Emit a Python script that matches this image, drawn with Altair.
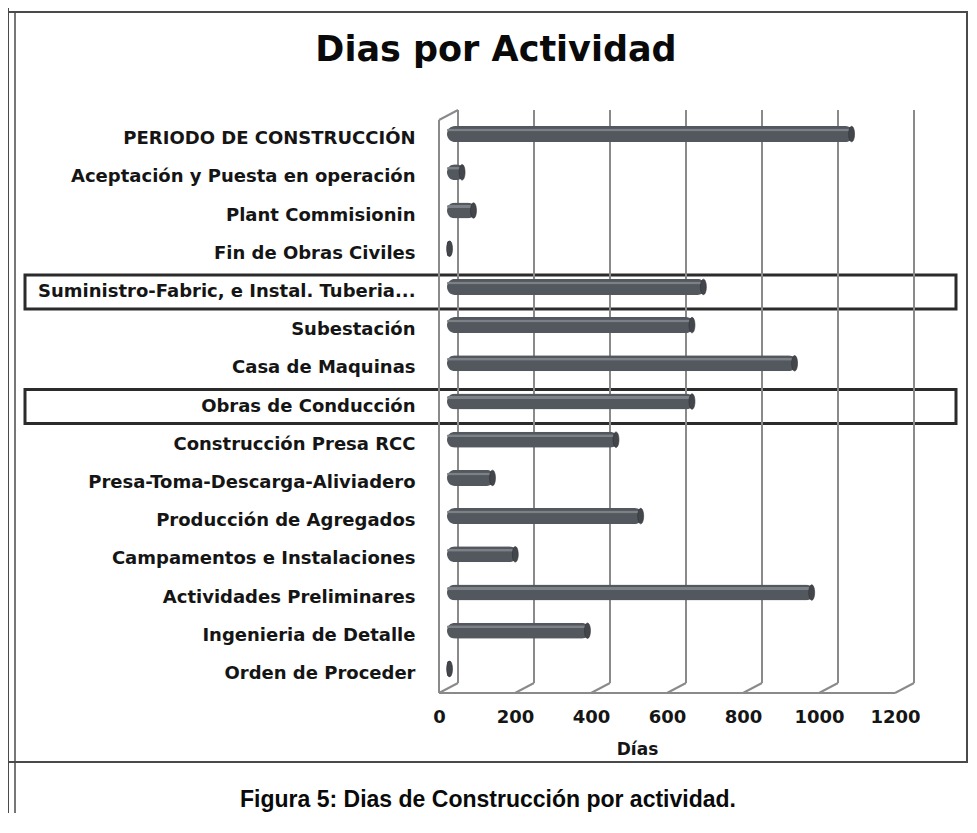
import altair as alt
import pandas as pd

# ---- data ----
categories = [
    "PERIODO DE CONSTRUCCIÓN",
    "Aceptación y Puesta en operación",
    "Plant Commisionin",
    "Fin de Obras Civiles",
    "Suministro-Fabric, e Instal. Tuberia...",
    "Subestación",
    "Casa de Maquinas",
    "Obras de Conducción",
    "Construcción Presa RCC",
    "Presa-Toma-Descarga-Aliviadero",
    "Producción de Agregados",
    "Campamentos e Instalaciones",
    "Actividades Preliminares",
    "Ingenieria de Detalle",
    "Orden de Proceder",
]
dias = [1070, 45, 75, 12, 680, 650, 920, 650, 450, 125, 515, 185, 965, 375, 12]
highlighted = ["Suministro-Fabric, e Instal. Tuberia...", "Obras de Conducción"]
ticks = [0, 200, 400, 600, 800, 1000, 1200]
title_text = "Dias por Actividad"
caption_text = "Figura 5: Dias de Construcción por actividad."
x_title = "Días"

df = pd.DataFrame({"actividad": categories, "dias": dias})
df_hl = pd.DataFrame({"actividad": highlighted})
df_ticks = pd.DataFrame({"tick": ticks})
one = alt.Data(values=[{}])

W, H = 456, 573
DX, DY = 19, -10          # 3-D depth offset of the back wall (px)
MID = 8 / (W / 1200.0)    # bars sit half-way in depth: shift their scale by 8 px
FONT = "DejaVu Sans"
xscale = alt.Scale(domain=[0, 1200], nice=False, zero=True)
xscale_bars = alt.Scale(domain=[-MID, 1200 - MID], nice=False, zero=False)
yscale = alt.Scale(domain=categories, paddingInner=0.1, paddingOuter=0.05)
grid_col = "#8a8a8a"

xaxis = alt.Axis(
    title=x_title, values=ticks, grid=False, domain=False, ticks=False,
    labelFont=FONT, labelFontWeight="bold", labelFontSize=18,
    labelColor="#151515", labelPadding=15, labelFlush=False,
    labelOverlap=False, format="d",
    titleFont=FONT, titleFontWeight="bold", titleFontSize=17,
    titleColor="#151515", titleX=198, titleY=56,
    titleAlign="center", titleBaseline="middle",
)
yaxis = alt.Axis(
    title="", ticks=False, domain=False, grid=False,
    labelFont=FONT, labelFontWeight="bold", labelFontSize=18,
    labelColor="#151515", labelPadding=24, labelLimit=600,
)

# outer frame
frame = alt.Chart(one).mark_rect(fillOpacity=0, stroke="#4a4a4a", strokeWidth=2).encode(
    x=alt.value(-431), x2=alt.value(528), y=alt.value(-108), y2=alt.value(642)
)
frame_left1 = alt.Chart(one).mark_rule(color="#4a4a4a", strokeWidth=2).encode(
    x=alt.value(-431), y=alt.value(-112), y2=alt.value(700)
)
frame_left2 = alt.Chart(one).mark_rule(color="#4a4a4a", strokeWidth=1.5).encode(
    x=alt.value(-424), y=alt.value(-108), y2=alt.value(700)
)

# highlight boxes
boxes = alt.Chart(df_hl).mark_bar(
    orient="horizontal", size=34, fillOpacity=0, stroke="#2b2b2b", strokeWidth=3
).encode(
    y=alt.Y("actividad:N", scale=yscale, axis=yaxis),
    x=alt.value(-414), x2=alt.value(517),
)

# back wall gridlines (carry the x axis labels)
back_grid = alt.Chart(df_ticks).mark_rule(color=grid_col, strokeWidth=2, xOffset=DX).encode(
    x=alt.X("tick:Q", scale=xscale, axis=xaxis),
    y=alt.value(DY), y2=alt.value(H + DY),
)
# floor diagonals
diag = alt.Chart(df_ticks).mark_rule(color=grid_col, strokeWidth=2, x2Offset=DX).encode(
    x=alt.X("tick:Q", scale=xscale, axis=None),
    x2=alt.X2("tick:Q"),
    y=alt.value(H), y2=alt.value(H + DY),
)
# front floor edge
floor_front = alt.Chart(one).mark_rule(color=grid_col, strokeWidth=2).encode(
    x=alt.datum(0, scale=xscale, axis=None), x2=alt.datum(1200), y=alt.value(H)
)
# left wall front edge and top
wall_front = alt.Chart(one).mark_rule(color=grid_col, strokeWidth=2).encode(
    x=alt.datum(0, scale=xscale, axis=None), y=alt.value(0), y2=alt.value(H)
)
wall_top = alt.Chart(one).mark_rule(color=grid_col, strokeWidth=2, x2Offset=DX).encode(
    x=alt.datum(0, scale=xscale, axis=None), x2=alt.datum(0), y=alt.value(0), y2=alt.value(DY)
)

bars = alt.Chart(df).mark_bar(
    orient="horizontal", size=16, cornerRadius=8, yOffset=-5, color="#53575e",
).encode(
    y=alt.Y("actividad:N", scale=yscale, axis=yaxis),
    x=alt.X("dias:Q", scale=xscale_bars, axis=None),
)
# cylinder shine
shine = alt.Chart(df).mark_bar(
    orient="horizontal", size=3, cornerRadius=1.5, yOffset=-9, color="#7c8087",
).encode(
    y=alt.Y("actividad:N", scale=yscale, axis=yaxis),
    x=alt.X("dias:Q", scale=xscale_bars, axis=None),
)
# elliptical end caps of the cylinders
ellipse = "M0,-1 A0.38,1 0 1,1 0,1 A0.38,1 0 1,1 0,-1 Z"
caps = alt.Chart(df).mark_point(
    shape=ellipse, filled=True, size=240, yOffset=-5, xOffset=-2,
    color="#43474c", opacity=1, stroke="#2f3135", strokeWidth=0.6,
).encode(
    y=alt.Y("actividad:N", scale=yscale, axis=yaxis),
    x=alt.X("dias:Q", scale=xscale_bars, axis=None),
)

title = alt.Chart(one).mark_text(
    font=FONT, fontWeight="bold", fontSize=35, color="#0a0a0a",
    align="center", baseline="middle",
).encode(x=alt.value(57), y=alt.value(-70), text=alt.value(title_text))

caption = alt.Chart(one).mark_text(
    font="Liberation Sans", fontWeight="bold", fontSize=23, color="#0a0a0a",
    align="center", baseline="middle",
).encode(x=alt.value(49), y=alt.value(680), text=alt.value(caption_text))

chart = alt.layer(
    frame, frame_left1, frame_left2, boxes, back_grid, diag, floor_front,
    wall_front, wall_top, bars, shine, caps, title, caption,
).resolve_scale(x="independent").resolve_axis(x="independent").properties(
    width=W, height=H,
    autosize=alt.AutoSizeParams(type="none"),
    padding={"left": 431, "top": 112, "right": 74, "bottom": 120},
    background="white",
).configure_view(stroke="transparent", strokeWidth=0)

chart.save("out.html", embed_options={"renderer": "svg", "actions": False})
